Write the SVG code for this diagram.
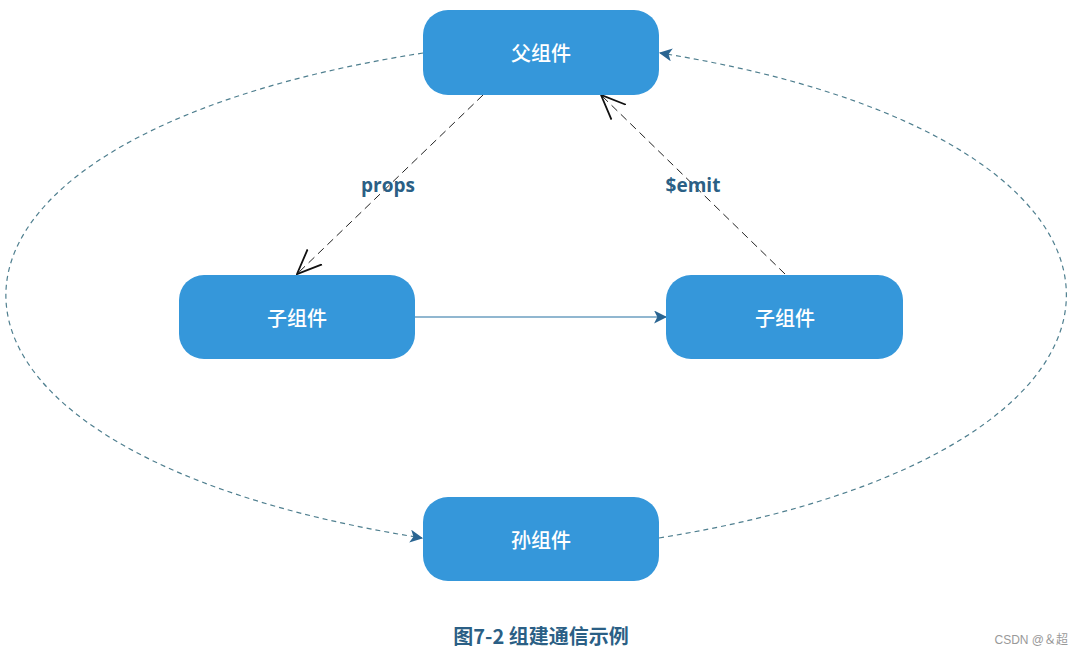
<svg xmlns="http://www.w3.org/2000/svg" width="1074" height="656" viewBox="0 0 1074 656">
<style>
.node rect{fill:#3597da;}
.node text{fill:#ffffff;font-family:"Noto Sans CJK SC","Noto Sans",sans-serif;font-size:20px;font-weight:500;text-anchor:middle;dominant-baseline:central;}
.lbl{fill:#2b5f85;font-family:"Open Sans","Noto Sans",sans-serif;font-size:19px;font-weight:bold;text-anchor:middle;}
.curve{fill:none;stroke:#4f7f8f;stroke-width:1.2;stroke-dasharray:5,4;}
.dash{fill:none;stroke:#222;stroke-width:1;stroke-dasharray:8,5;}
</style>
<defs>
<marker id="open" viewBox="0 0 20 20" refX="19" refY="10" markerWidth="26" markerHeight="26" markerUnits="userSpaceOnUse" orient="auto">
<path d="M0,2 L19,10 L0,18" fill="none" stroke="#111" stroke-width="1.4"/>
</marker>
<marker id="fill" viewBox="0 0 12 12" refX="11" refY="6" markerWidth="13" markerHeight="13" markerUnits="userSpaceOnUse" orient="auto">
<path d="M0,0 L12,6 L0,12 L3,6 Z" fill="#2a6592"/>
</marker>
</defs>
<g id="connectors">
<path class="curve" d="M423,53 C-133,140 -133,450 422,538" marker-end="url(#fill)"/>
<path class="curve" d="M659,538 C1202,450 1202,140 660,53" marker-end="url(#fill)"/>
<line class="dash" x1="483" y1="95" x2="297" y2="274" marker-end="url(#open)"/>
<line class="dash" x1="785" y1="274" x2="601" y2="95" marker-end="url(#open)"/>
<line x1="415" y1="317" x2="666" y2="317" stroke="#6d9fc0" stroke-width="1.5" marker-end="url(#fill)"/>
<text class="lbl" x="388" y="192">props</text>
<text class="lbl" x="693" y="192">$emit</text>
</g>
<g id="parent" class="node"><rect x="423" y="10" width="236" height="85" rx="25"/><text x="541" y="52">父组件</text></g>
<g id="childLeft" class="node"><rect x="179" y="275" width="236" height="84" rx="25"/><text x="297" y="317">子组件</text></g>
<g id="childRight" class="node"><rect x="666" y="275" width="237" height="84" rx="25"/><text x="785" y="317">子组件</text></g>
<g id="grandchild" class="node"><rect x="423" y="497" width="236" height="84" rx="25"/><text x="541" y="539">孙组件</text></g>
<text x="541" y="644" fill="#2b5f85" font-family="'Noto Sans CJK SC','Noto Sans',sans-serif" font-size="20" font-weight="bold" text-anchor="middle">图7-2 组建通信示例</text>
<text x="1068" y="644" fill="#999" font-family="'Liberation Sans','Noto Sans CJK SC',sans-serif" font-size="12" text-anchor="end">CSDN @＆超</text>
</svg>
